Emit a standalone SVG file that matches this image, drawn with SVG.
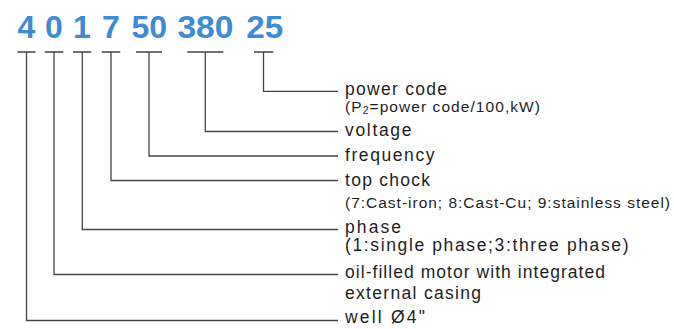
<svg xmlns="http://www.w3.org/2000/svg" width="674" height="329" viewBox="0 0 674 329">
<style>
.code{font-family:"Liberation Sans",Arial,sans-serif;font-weight:bold;font-size:32px;fill:#3d8bd0;text-anchor:middle}
.lbl{font-family:"Liberation Sans",Arial,sans-serif;font-size:17.5px;fill:#1e1e1e}
.sub{font-family:"Liberation Sans",Arial,sans-serif;font-size:15.5px;fill:#1e1e1e}
.ln{fill:none;stroke:#444;stroke-width:1.3}
</style>
<rect width="674" height="329" fill="#fff"/>
<g id="code">
<text class="code" x="26.5" y="38">4</text>
<text class="code" x="54" y="38">0</text>
<text class="code" x="82" y="38">1</text>
<text class="code" x="111" y="38">7</text>
<text class="code" x="149.2" y="38">50</text>
<text class="code" x="205.4" y="38" textLength="56" lengthAdjust="spacingAndGlyphs">380</text>
<text class="code" x="264.7" y="38" textLength="37" lengthAdjust="spacingAndGlyphs">25</text>
</g>
<g id="connectors">
<path class="ln" d="M17.5 52H35.5M26.5 52V320.5H338"/>
<path class="ln" d="M44.7 52H63.3M54 52V274.5H338"/>
<path class="ln" d="M73 52H91.3M82.3 52V229.5H338"/>
<path class="ln" d="M101.7 52H120.3M111 52V180.5H338"/>
<path class="ln" d="M136 52H162M149 52V156H338"/>
<path class="ln" d="M187.3 52H223.3M205.3 52V131.5H338"/>
<path class="ln" d="M254 52H273.3M263.5 52V91.3H338"/>
</g>
<g id="power-code">
<text class="lbl" x="345" y="94.5" textLength="102">power code</text>
<text class="sub" x="345" y="112" textLength="195">(P<tspan font-size="10.5" dy="2">2</tspan><tspan dy="-2">=power code/100,kW)</tspan></text>
</g>
<g id="voltage"><text class="lbl" x="345" y="135.5" textLength="66.5">voltage</text></g>
<g id="frequency"><text class="lbl" x="345" y="160.5" textLength="89.5">frequency</text></g>
<g id="top-chock">
<text class="lbl" x="345" y="185.5" textLength="85">top chock</text>
<text class="sub" x="345" y="207.5" textLength="325">(7:Cast-iron; 8:Cast-Cu; 9:stainless steel)</text>
</g>
<g id="phase">
<text class="lbl" x="345" y="232.5" textLength="56">phase</text>
<text class="lbl" x="345" y="251" textLength="283.5">(1:single phase;3:three phase)</text>
</g>
<g id="oil-filled">
<text class="lbl" x="345" y="277.5" textLength="260">oil-filled motor with integrated</text>
<text class="lbl" x="345" y="298.5" textLength="136">external casing</text>
</g>
<g id="well"><text class="lbl" x="345" y="322.5" textLength="80">well Ø4"</text></g>
</svg>
